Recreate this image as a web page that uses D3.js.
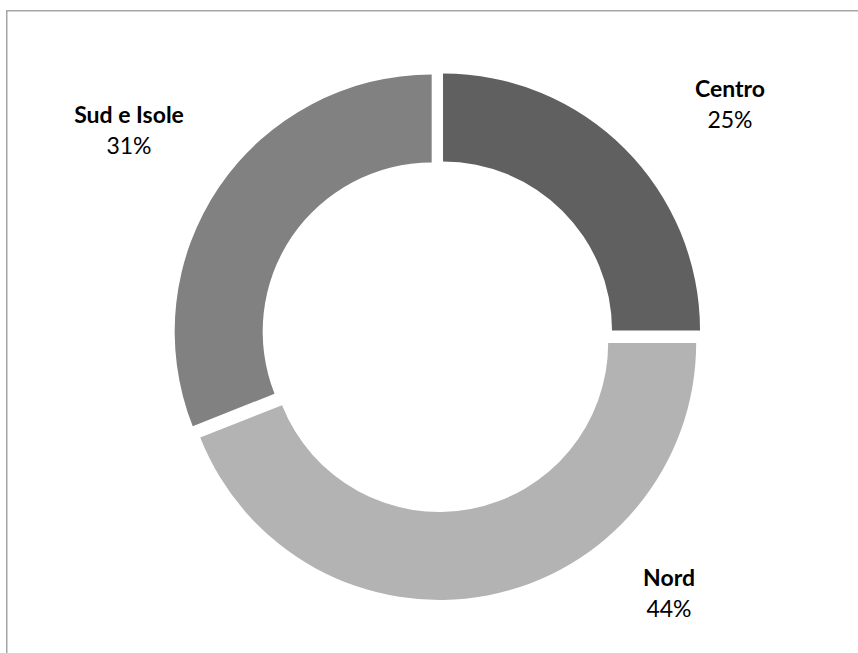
<!DOCTYPE html>
<html>
<head>
<meta charset="utf-8">
<script src="https://cdn.jsdelivr.net/npm/d3@7"></script>
<style>
  html, body { margin: 0; padding: 0; background: #fff; }
  svg { display: block; }
</style>
</head>
<body>
<svg id="chart" width="858" height="653"></svg>
<script>
// Regional shares (percent), clockwise from 12 o'clock
const categories = ["Centro", "Nord", "Sud e Isole"];
const shares = [25, 44, 31];
const percentLabels = ["25%", "44%", "31%"];

// Layout
const W = 858, H = 653;
const cx = 437.8, cy = 335.7;
const outerR = 257, innerR = 169;
const explode = 7.4;
const fills = ["#606060", "#b3b3b3", "#818181"];
// Label anchor points (center of the two-line label block, first baseline)
const labelAnchors = [[730, 97], [669, 586], [129, 123]];
const lineGap = 31;

const svg = d3.select("#chart");

// Chart frame (top and left edges visible)
svg.append("path")
  .attr("d", `M6.75,${H} L6.75,10.75 L${W},10.75`)
  .attr("fill", "none")
  .attr("stroke", "#a6a6a6")
  .attr("stroke-width", 1.5);

const pie = d3.pie().sort(null).value(d => d.value);
const arc = d3.arc().innerRadius(innerR).outerRadius(outerR);

const data = categories.map((c, i) => ({ name: c, value: shares[i], label: percentLabels[i], fill: fills[i] }));
const slices = pie(data);

const g = svg.append("g").attr("transform", `translate(${cx},${cy})`);

g.selectAll("path.slice")
  .data(slices)
  .join("path")
  .attr("class", "slice")
  .attr("d", arc)
  .attr("fill", d => d.data.fill)
  .attr("transform", d => {
    const mid = (d.startAngle + d.endAngle) / 2;
    return `translate(${explode * Math.sin(mid)},${-explode * Math.cos(mid)})`;
  });

// Category and percentage labels
const font = "Lato, 'Open Sans', sans-serif";
const labels = svg.selectAll("g.label")
  .data(slices)
  .join("g")
  .attr("class", "label")
  .attr("transform", (d, i) => `translate(${labelAnchors[i][0]},${labelAnchors[i][1]})`);

labels.append("text")
  .attr("text-anchor", "middle")
  .attr("font-family", font)
  .attr("font-weight", "bold")
  .attr("font-size", 23)
  .attr("fill", "#000")
  .text(d => d.data.name);

labels.append("text")
  .attr("y", lineGap)
  .attr("text-anchor", "middle")
  .attr("font-family", font)
  .attr("font-size", 23)
  .attr("fill", "#000")
  .text(d => d.data.label);
</script>
</body>
</html>
